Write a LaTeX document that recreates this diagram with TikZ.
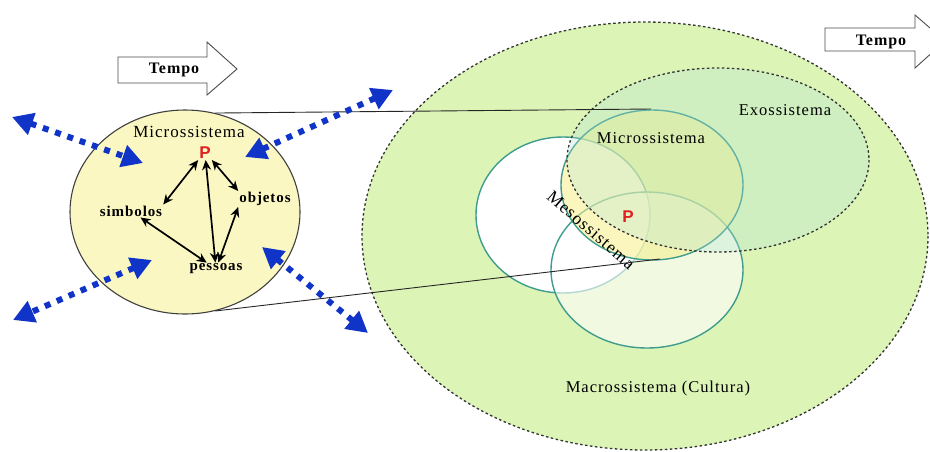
\documentclass[tikz,border=0pt]{standalone}
\usepackage{fontspec}
\setmainfont{Liberation Serif}
\newfontfamily\lblfont[LetterSpace=6]{Liberation Serif}
\newfontfamily\psans{Liberation Sans}
\usetikzlibrary{arrows.meta,shapes.geometric}

\definecolor{macro}{HTML}{DCF4B6}
\definecolor{exo}{HTML}{B4E4DA}
\definecolor{micro}{HTML}{F6EF8A}
\definecolor{ring}{HTML}{3F9C8E}
\definecolor{pale}{HTML}{FBF7C2}
\definecolor{dotblue}{HTML}{1034C8}
\definecolor{pred}{HTML}{E02020}

\tikzset{
  lbl/.style={font=\lblfont\fontsize{16.5}{18}\selectfont, inner sep=1pt},
  item/.style={font=\lblfont\bfseries\fontsize{15}{17}\selectfont, inner sep=1pt},
  blbl/.style={font=\lblfont\bfseries\fontsize{16}{18}\selectfont, inner sep=2pt},
  pmark/.style={font=\psans\bfseries\fontsize{17}{19}\selectfont, text=pred, inner sep=1pt},
  duo/.style={{Stealth[length=10pt,width=9pt]}-{Stealth[length=10pt,width=9pt]}, line width=1.7pt, black},
  bluedots/.style={draw=dotblue, line width=6pt, dash pattern=on 6pt off 7pt,
    {Triangle[length=21pt,width=22pt]}-{Triangle[length=21pt,width=22pt]}},
  link/.style={draw=black!85, line width=0.9pt},
  timearrow/.style={draw=black!70, line width=0.9pt, fill=white},
}

\begin{document}
\begin{tikzpicture}[x=1pt,y=-1pt]
\useasboundingbox (0,0) rectangle (930,451);
\clip (0,0) rectangle (930,451);
\fill[white] (0,0) rectangle (930,451);

% --- nested systems on the right ---
\fill[macro] (645,236) ellipse [x radius=283, y radius=214];
% outer circle of the mesosystem (left)
\filldraw[fill=white, draw=ring, line width=1.4pt] (563,215) ellipse [x radius=87, y radius=78];
% lower circle
\fill[white, opacity=0.6] (647,270) ellipse [x radius=96, y radius=78];
\draw[ring, line width=1.4pt] (647,270) ellipse [x radius=96, y radius=78];
% microsystem circle
\fill[micro, opacity=0.55] (652,185) ellipse [x radius=91, y radius=75];
\draw[ring, line width=1.4pt] (652,185) ellipse [x radius=91, y radius=75];
% exosystem
\fill[exo, opacity=0.3] (718,160) ellipse [x radius=151, y radius=92];
\draw[black!80, line width=1.3pt, dash pattern=on 2.5pt off 2.5pt] (718,160) ellipse [x radius=151, y radius=92];
% macrosystem border
\draw[black!80, line width=1.3pt, dash pattern=on 2.5pt off 2.5pt] (645,236) ellipse [x radius=283, y radius=214];

\node[lbl] (microR) at (651,138) {Microssistema};
\node[lbl] (exoT) at (785,110) {Exossistema};
\node[pmark] (PR) at (628,217) {P};
\node[font=\lblfont\fontsize{17.5}{19}\selectfont, inner sep=0pt, rotate=-41] (meso) at (591,230) {Mesossistema};
\node[lbl] (macroT) at (658,389) {Macrossistema (Cultura)};

% --- time arrows ---
\draw[timearrow] (118,57) -- (207,57) -- (207,42) -- (237,69) -- (207,95) -- (207,83) -- (118,83) -- cycle;
\node[blbl] (t1) at (174,70) {Tempo};
\draw[timearrow] (825,28) -- (915,28) -- (915,15) -- (945,41) -- (915,68) -- (915,51) -- (825,51) -- cycle;
\node[blbl] (t2) at (881,42) {Tempo};

% --- the person's microsystem ---
\node[ellipse, draw=black!75, line width=1.1pt, fill=pale, minimum width=230pt, minimum height=204pt] (micro) at (185,212) {};
\coordinate (m1) at (651,109);
\coordinate (m2) at (660,259);
\draw[link] (micro.73) -- (m1);
\draw[link] (micro.-73) -- (m2);

\node[lbl, font=\lblfont\fontsize{17}{19}\selectfont] (mt) at (189,132) {Microssistema};
\node[pmark] (P) at (205,153) {P};
\node[item] (simb) at (131,211) {simbolos};
\node[item] (obj) at (265,199) {objetos};
\node[item] (pes) at (216,269) {pessoas};

\draw[duo] (P.south west) -- (simb.north east);
\draw[duo] (P.south east) -- (obj.north west);
\draw[duo] (P) -- (pes);
\draw[duo] (simb) -- (pes);
\draw[duo] (obj.south west) -- (pes.70);

% --- blue dotted influences ---
\coordinate (b1a) at (12,117);  \coordinate (b1b) at (143,163);
\coordinate (b2a) at (245,157); \coordinate (b2b) at (393,90);
\coordinate (b3a) at (152,260); \coordinate (b3b) at (13,320);
\coordinate (b4a) at (262,247); \coordinate (b4b) at (368,333);
\draw[bluedots] (b1a) -- (b1b);
\draw[bluedots] (b2a) -- (b2b);
\draw[bluedots] (b3a) -- (b3b);
\draw[bluedots] (b4a) -- (b4b);
\end{tikzpicture}
\end{document}
